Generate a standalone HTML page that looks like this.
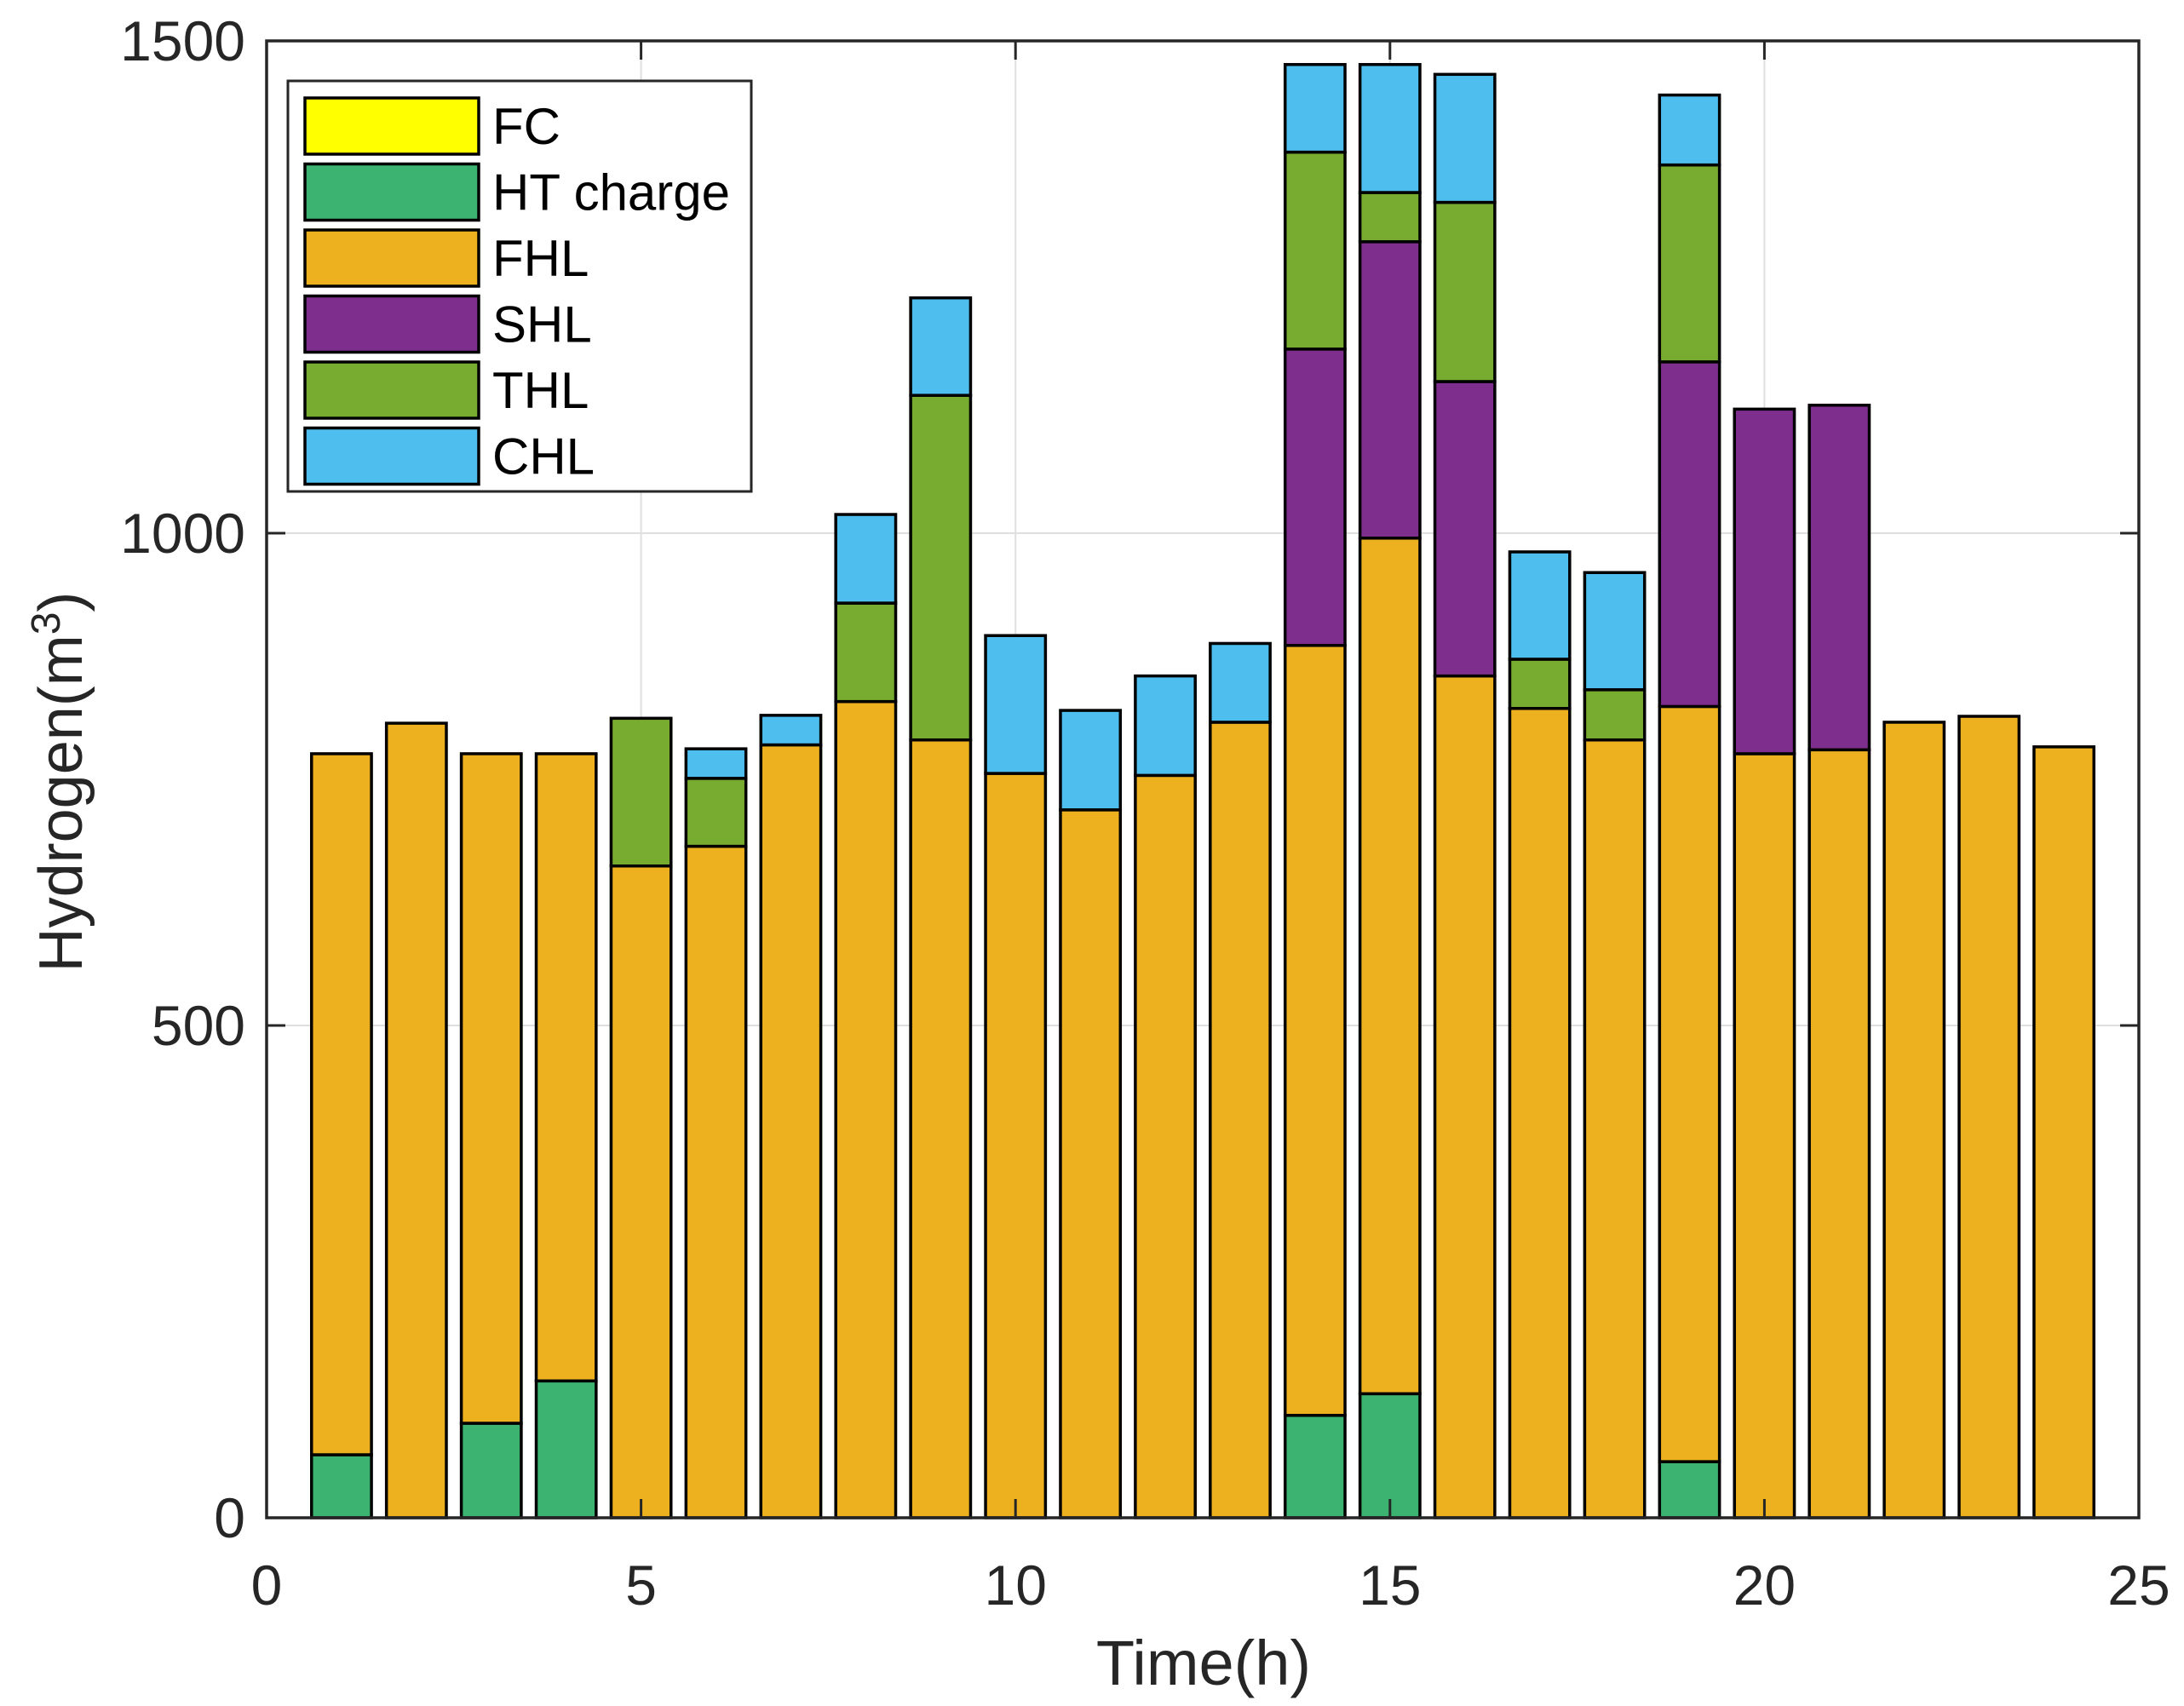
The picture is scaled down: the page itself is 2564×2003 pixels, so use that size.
<!DOCTYPE html>
<html><head><meta charset="utf-8"><style>
html,body{margin:0;padding:0;background:#fff;}
svg{display:block;font-family:"Liberation Sans",Arial,sans-serif;}
</style></head><body>
<svg id="chart" width="2564" height="2003" viewBox="0 0 2564 2003" xmlns="http://www.w3.org/2000/svg">
<rect width="2564" height="2003" fill="#fff"/>
<g id="grid"></g>
<g id="bars"></g>
<g id="axes"></g>
<text transform="translate(96,918) rotate(-90)" text-anchor="middle" font-size="72" fill="#262626">Hydrogen(m<tspan baseline-shift="super" font-size="48">3</tspan>)</text>
<text x="1413" y="1978" text-anchor="middle" font-size="74" fill="#262626">Time(h)</text>
<g id="legend"></g>
</svg>
<script>
const hours = [1,2,3,4,5,6,7,8,9,10,11,12,13,14,15,16,17,18,19,20,21,22,23,24];
const fc  = [0,0,0,0,0,0,0,0,0,0,0,0,0,0,0,0,0,0,0,0,0,0,0,0];
const htCharge = [64,0,96,139,0,0,0,0,0,0,0,0,0,104,126,0,0,0,57,0,0,0,0,0];
const fhl = [712,807,680,637,662,682,785,829,790,756,719,754,808,782,869,855,822,790,767,776,780,808,814,783];
const shl = [0,0,0,0,0,0,0,0,0,0,0,0,0,301,301,299,0,0,350,350,350,0,0,0];
const thl = [0,0,0,0,150,69,0,100,350,0,0,0,0,200,50,182,50,51,200,0,0,0,0,0];
const chl = [0,0,0,0,0,30,30,90,99,140,101,101,80,89,130,130,109,119,71,0,0,0,0,0];
const seriesNames = ["FC","HT charge","FHL","SHL","THL","CHL"];
const seriesColors = ["#ffff00","#3cb371","#edb120","#7e2f8e","#77ac30","#4dbeee"];
const xTicks = [0,5,10,15,20,25];
const yTicks = [0,500,1000,1500];

const NS="http://www.w3.org/2000/svg";
const L=313,R=2511,T=48,B=1782;
const xMin=0,xMax=25,yMin=0,yMax=1500;
const xs=v=>L+(v-xMin)/(xMax-xMin)*(R-L);
const ys=v=>B-(v-yMin)/(yMax-yMin)*(B-T);
function mk(tag,attrs,parent){const e=document.createElementNS(NS,tag);for(const k in attrs)e.setAttribute(k,attrs[k]);parent.appendChild(e);return e;}
const grid=document.getElementById('grid'),bars=document.getElementById('bars'),axes=document.getElementById('axes'),legend=document.getElementById('legend');

xTicks.forEach(t=>{if(t>xMin&&t<xMax){const g=mk('line',{x1:xs(t),x2:xs(t),y1:T,y2:B,stroke:'#dfdfdf','stroke-width':2},grid);

}});
yTicks.forEach(t=>{if(t>yMin&&t<yMax){const g=mk('line',{x1:L,x2:R,y1:ys(t),y2:ys(t),stroke:'#dfdfdf','stroke-width':2},grid);

}});

const allSeries=[fc,htCharge,fhl,shl,thl,chl];
const bw=0.8;
hours.forEach((h,i)=>{let base=0;
allSeries.forEach((s,si)=>{const v=s[i];if(v>0){
const r=mk('rect',{x:xs(h-bw/2),y:ys(base+v),width:xs(h+bw/2)-xs(h-bw/2),height:ys(base)-ys(base+v),fill:seriesColors[si],stroke:'#000','stroke-width':3.5},bars);


base+=v;}});});

const box=mk('rect',{x:L,y:T,width:R-L,height:B-T,fill:'none',stroke:'#262626','stroke-width':3.5},axes);


xTicks.forEach(t=>{const x=xs(t);
mk('line',{x1:x,x2:x,y1:B,y2:B-22,stroke:'#262626','stroke-width':3},axes);
mk('line',{x1:x,x2:x,y1:T,y2:T+22,stroke:'#262626','stroke-width':3},axes);
const tx=mk('text',{x:x,y:1884,'text-anchor':'middle','font-size':66,fill:'#262626'},axes);tx.textContent=t;

});
yTicks.forEach(t=>{const y=ys(t);
mk('line',{x1:L,x2:L+22,y1:y,y2:y,stroke:'#262626','stroke-width':3},axes);
mk('line',{x1:R,x2:R-22,y1:y,y2:y,stroke:'#262626','stroke-width':3},axes);
const tx=mk('text',{x:288,y:y+23,'text-anchor':'end','font-size':66,fill:'#262626'},axes);tx.textContent=t;

});

const lb=mk('rect',{x:338,y:95,width:544,height:482,fill:'#fff',stroke:'#262626','stroke-width':3},legend);


seriesNames.forEach((n,i)=>{const y=115+i*77.5;
const sw=mk('rect',{x:358,y:y,width:204,height:66,fill:seriesColors[i],stroke:'#000','stroke-width':3.5},legend);


const tx=mk('text',{x:578,y:y+54,'font-size':60,fill:'#000'},legend);tx.textContent=n;

});
</script>
</body></html>
